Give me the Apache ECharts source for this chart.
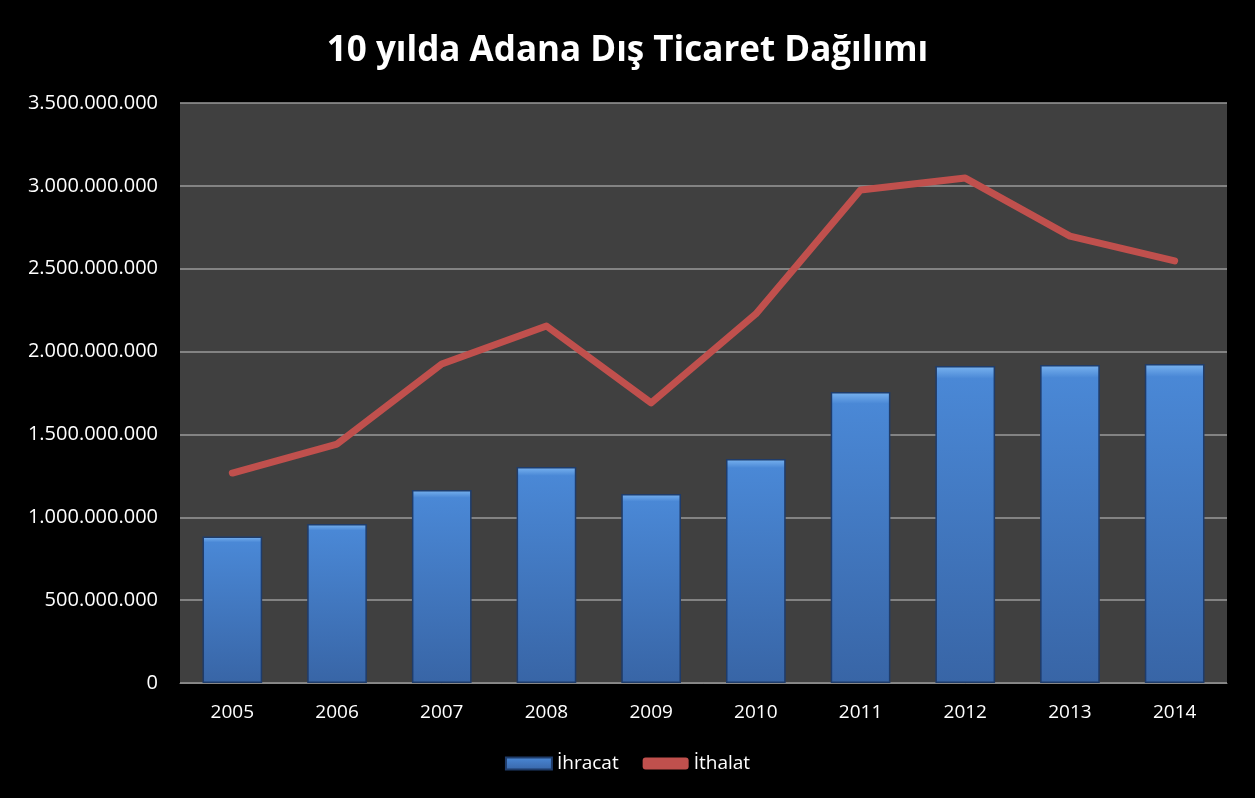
<!DOCTYPE html>
<html>
<head>
<meta charset="utf-8">
<script src="https://cdn.jsdelivr.net/npm/echarts@6/dist/echarts.min.js"></script>
<style>
  html, body { margin: 0; padding: 0; background: #000; }
  #chart { width: 1255px; height: 798px; }
</style>
</head>
<body>
<div id="chart"></div>
<script>
var years = ['2005', '2006', '2007', '2008', '2009', '2010', '2011', '2012', '2013', '2014'];
var ihracat = [884000000, 959000000, 1165000000, 1303000000, 1141000000, 1352000000, 1756000000, 1913000000, 1919000000, 1925000000];
var ithalat = [1267000000, 1442000000, 1925000000, 2154000000, 1690000000, 2227000000, 2975000000, 3047000000, 2697000000, 2547000000];

// 3.500.000.000 style
function fmt(v) {
  return String(v).replace(/\B(?=(\d{3})+(?!\d))/g, '.');
}

var myChart = echarts.init(document.getElementById('chart'));
var font = '"Open Sans", "DejaVu Sans", sans-serif';

var option = {
  backgroundColor: '#000',
  animation: false,
  title: {
    text: '10 yılda Adana Dış Ticaret Dağılımı',
    left: 'center',
    top: 29,
    textStyle: { color: '#fff', fontSize: 35, fontWeight: 'bold', fontFamily: font }
  },
  legend: {
    bottom: 20,
    left: 'center',
    itemWidth: 46,
    itemHeight: 12,
    itemGap: 24,
    textStyle: { color: '#fff', fontSize: 19, fontFamily: font },
    data: [
      { name: 'İhracat', icon: 'rect' },
      { name: 'İthalat', icon: 'roundRect' }
    ]
  },
  grid: {
    left: 180, right: 28, top: 103, bottom: 115,
    show: true,
    backgroundColor: '#404040',
    borderWidth: 0
  },
  xAxis: {
    type: 'category',
    data: years,
    axisLine: { lineStyle: { color: '#888' } },
    axisTick: { show: false },
    axisLabel: { color: '#fff', fontSize: 19, fontFamily: font, margin: 20 }
  },
  yAxis: {
    type: 'value',
    min: 0,
    max: 3500000000,
    interval: 500000000,
    axisLine: { show: false },
    axisTick: { show: false },
    splitLine: { lineStyle: { color: '#9a9a9a', width: 1.5 } },
    axisLabel: { color: '#fff', fontSize: 20, fontFamily: font, margin: 22, formatter: fmt }
  },
  series: [
    {
      name: 'İhracat',
      type: 'bar',
      barWidth: '57%',
      data: ihracat,
      itemStyle: {
        color: new echarts.graphic.LinearGradient(0, 0, 0, 1, [
          { offset: 0, color: '#7ab4f0' },
          { offset: 0.04, color: '#4a88d6' },
          { offset: 1, color: '#3865a6' }
        ]),
        borderColor: '#1f3c6a',
        borderWidth: 1.5
      }
    },
    {
      name: 'İthalat',
      type: 'line',
      data: ithalat,
      symbol: 'none',
      lineStyle: { color: '#c0504d', width: 7, cap: 'round', join: 'round' },
      itemStyle: { color: '#c0504d' }
    }
  ]
};

myChart.setOption(option);
</script>
</body>
</html>
